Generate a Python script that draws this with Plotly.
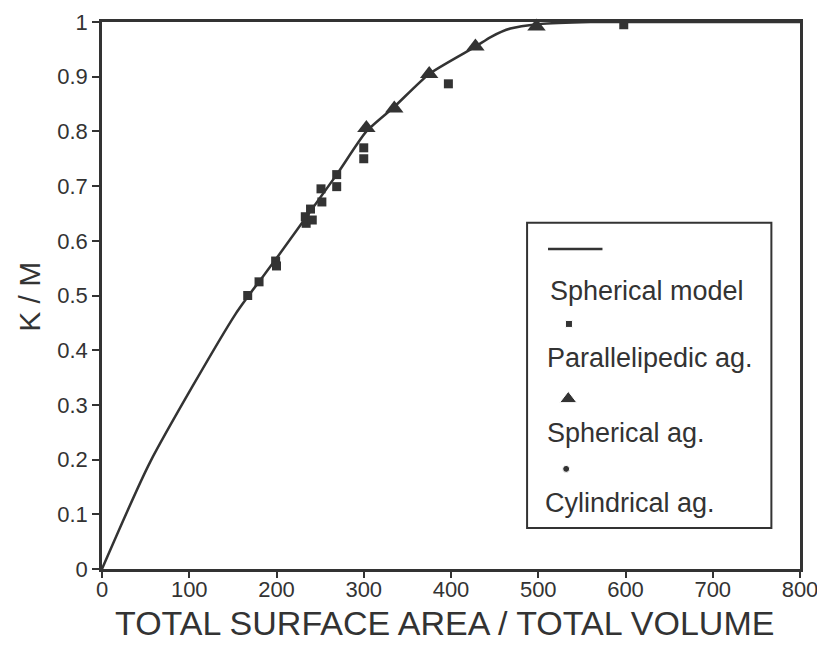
import plotly.graph_objects as go

# ---- data ----
model_x = [0, 55, 153, 200, 269, 303, 335, 375, 428, 446, 468, 500, 560, 650, 800]
model_y = [0, 0.195, 0.466, 0.568, 0.721, 0.800, 0.845, 0.905, 0.955, 0.973, 0.988, 0.996, 1.0, 1.0, 1.0]

par_x = [167, 180, 199, 200, 233, 234, 241, 239, 252, 251, 269, 269, 300, 300, 397, 598]
par_y = [0.500, 0.525, 0.563, 0.554, 0.644, 0.632, 0.638, 0.658, 0.671, 0.695, 0.699, 0.721,
         0.750, 0.770, 0.887, 0.995]

sph_x = [303, 335, 375, 428, 498]
sph_y = [0.806, 0.842, 0.905, 0.955, 0.992]

cyl_x = []
cyl_y = []

x_ticks = [0, 100, 200, 300, 400, 500, 600, 700, 800]
x_ticktext = ["0", "100", "200", "300", "400", "500", "600", "700", "800"]
y_ticks = [0, 0.1, 0.2, 0.3, 0.4, 0.5, 0.6, 0.7, 0.8, 0.9, 1]
y_ticktext = ["0", "0.1", "0.2", "0.3", "0.4", "0.5", "0.6", "0.7", "0.8", "0.9", "1"]

series_names = ["Spherical model", "Parallelipedic ag.", "Spherical ag.", "Cylindrical ag."]
x_title = "TOTAL SURFACE AREA / TOTAL VOLUME"
y_title = "K / M"

INK = "#333333"
FONT = "Liberation Sans, Arial, sans-serif"

fig = go.Figure()

fig.add_trace(go.Scatter(x=model_x, y=model_y, mode="lines", name=series_names[0],
                         line=dict(color=INK, width=2.5, shape="spline", smoothing=0.6),
                         showlegend=False))
fig.add_trace(go.Scatter(x=par_x, y=par_y, mode="markers", name=series_names[1],
                         marker=dict(symbol="square", size=9, color=INK, opacity=1),
                         cliponaxis=False, showlegend=False))
fig.add_trace(go.Scatter(x=sph_x, y=sph_y, mode="markers", name=series_names[2],
                         marker=dict(symbol="triangle-up", size=16, color=INK, opacity=1),
                         cliponaxis=False, showlegend=False))
fig.add_trace(go.Scatter(x=cyl_x, y=cyl_y, mode="markers", name=series_names[3],
                         marker=dict(symbol="circle", size=7, color=INK, opacity=1),
                         cliponaxis=False, showlegend=False))

# ---- custom legend (symbol above text), drawn on a hidden 0..1 axis pair ----
leg_sym_x = [0.669, 0.668, 0.665]
leg_sym_y = [0.448, 0.311, 0.183]
leg_sym = ["square", "triangle-up", "circle"]
leg_sym_size = [7, 15, 7]
fig.add_trace(go.Scatter(x=[0.639, 0.717], y=[0.585, 0.585], mode="lines",
                         line=dict(color=INK, width=2.5), xaxis="x2", yaxis="y2",
                         showlegend=False, hoverinfo="skip"))
fig.add_trace(go.Scatter(x=leg_sym_x, y=leg_sym_y, mode="markers",
                         marker=dict(symbol=leg_sym, size=leg_sym_size, color=INK, opacity=1),
                         xaxis="x2", yaxis="y2", showlegend=False, hoverinfo="skip"))

leg_text_x = [0.639, 0.635, 0.634, 0.632]
leg_text_y = [0.508, 0.386, 0.249, 0.121]
annotations = []
for name, tx, ty in zip(series_names, leg_text_x, leg_text_y):
    annotations.append(dict(x=tx, y=ty, xref="paper", yref="paper", text=name,
                            showarrow=False, xanchor="left", yanchor="middle",
                            font=dict(family=FONT, size=27, color=INK)))

# axis titles placed as annotations
annotations.append(dict(x=0.49, y=-0.099, xref="paper", yref="paper", text=x_title,
                        showarrow=False, xanchor="center", yanchor="middle",
                        font=dict(family=FONT, size=34, color=INK)))
annotations.append(dict(x=-0.105, y=0.497, xref="paper", yref="paper", text=y_title,
                        showarrow=False, xanchor="center", yanchor="middle", textangle=-90,
                        font=dict(family=FONT, size=30, color=INK)))

shapes = [dict(type="rect", xref="paper", yref="paper", x0=0.609, x1=0.959, y0=0.075, y1=0.633,
               line=dict(color=INK, width=2), fillcolor="rgba(0,0,0,0)")]

axis_common = dict(showline=True, linewidth=2.5, linecolor=INK, mirror=True,
                   ticks="outside", tickwidth=2, tickcolor=INK,
                   showgrid=False, zeroline=False, automargin=False,
                   ticklabeloverflow="allow",
                   tickfont=dict(family=FONT, size=22, color=INK))

fig.update_layout(
    width=825, height=653,
    margin=dict(l=94, r=33, t=14, b=92),
    paper_bgcolor="white", plot_bgcolor="white",
    xaxis=dict(range=[0, 800], tickvals=x_ticks, ticktext=x_ticktext, ticklen=6,
               ticklabelstandoff=-7, **axis_common),
    yaxis=dict(range=[0, 1], tickvals=y_ticks, ticktext=y_ticktext, ticklen=7, **axis_common),
    xaxis2=dict(domain=[0, 1], range=[0, 1], visible=False, anchor="y2", overlaying="x"),
    yaxis2=dict(domain=[0, 1], range=[0, 1], visible=False, anchor="x2", overlaying="y"),
    annotations=annotations,
    shapes=shapes,
    showlegend=False,
)

fig.write_html("out.html")
